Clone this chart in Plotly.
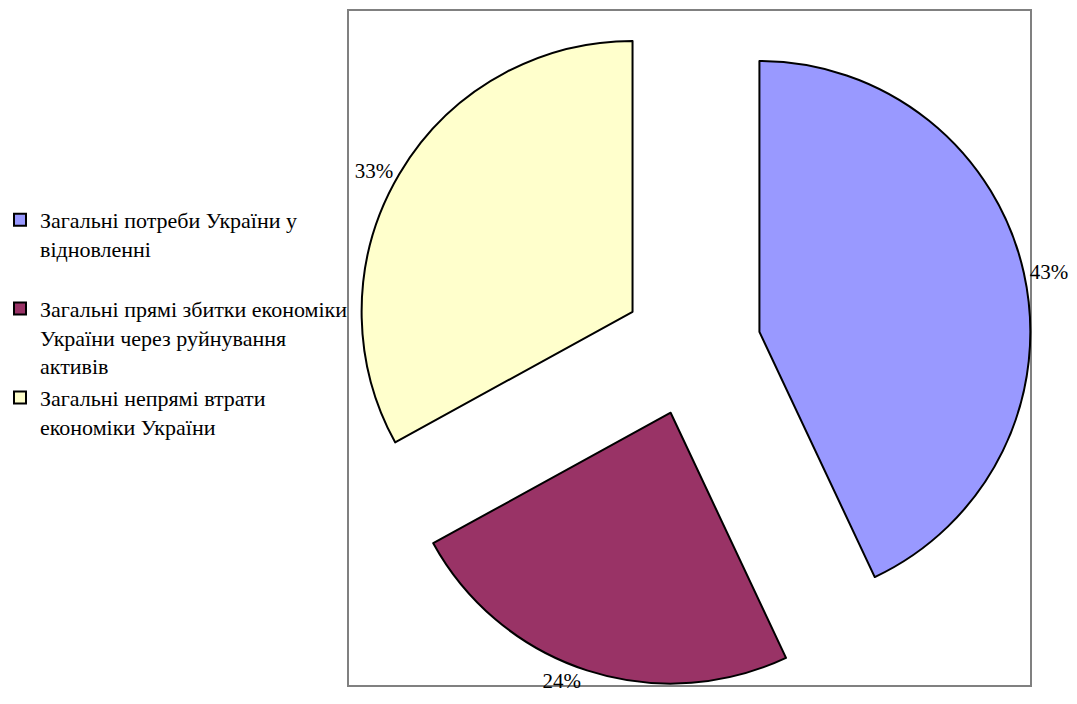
import plotly.graph_objects as go

labels = [
    "Загальні потреби України у<br>відновленні<br> ",
    "Загальні прямі збитки економіки<br>України через руйнування<br>активів",
    "Загальні непрямі втрати<br>економіки України",
]
values = [43, 24, 33]
colors = ["#9999FF", "#993366", "#FFFFCC"]

W, H = 1077, 704
font_family = "Liberation Serif"

fig = go.Figure()
fig.add_trace(go.Pie(
    labels=labels,
    values=values,
    sort=False,
    direction="clockwise",
    rotation=0,
    pull=[0.255, 0.255, 0.255],
    marker=dict(colors=colors, line=dict(color="black", width=2)),
    textinfo="percent",
    texttemplate="%{percent:.0%}",
    textposition="outside",
    textfont=dict(family=font_family, size=21, color="black"),
    domain=dict(x=[352 / W, 1032 / W], y=[1 - 687 / H, 1 - 7 / H]),
    automargin=False,
    hoverinfo="label+percent",
))

fig.add_shape(
    type="rect", xref="paper", yref="paper",
    x0=348 / W, x1=1031 / W, y0=1 - 686 / H, y1=1 - 10 / H,
    line=dict(color="#808080", width=2), fillcolor="rgba(0,0,0,0)",
    layer="below",
)

fig.update_layout(
    width=W, height=H,
    margin=dict(l=0, r=0, t=0, b=0),
    paper_bgcolor="white",
    plot_bgcolor="white",
    font=dict(family=font_family, size=22, color="black"),
    legend=dict(
        x=0.0, y=1 - 199 / H, xanchor="left", yanchor="top",
        font=dict(family=font_family, size=22, color="black"),
        bgcolor="rgba(0,0,0,0)",
        valign="top",
        itemwidth=30,
    ),
    showlegend=True,
)

fig.write_html("out.html", config={"displayModeBar": False},
               post_script="document.body.style.margin='0px';")
